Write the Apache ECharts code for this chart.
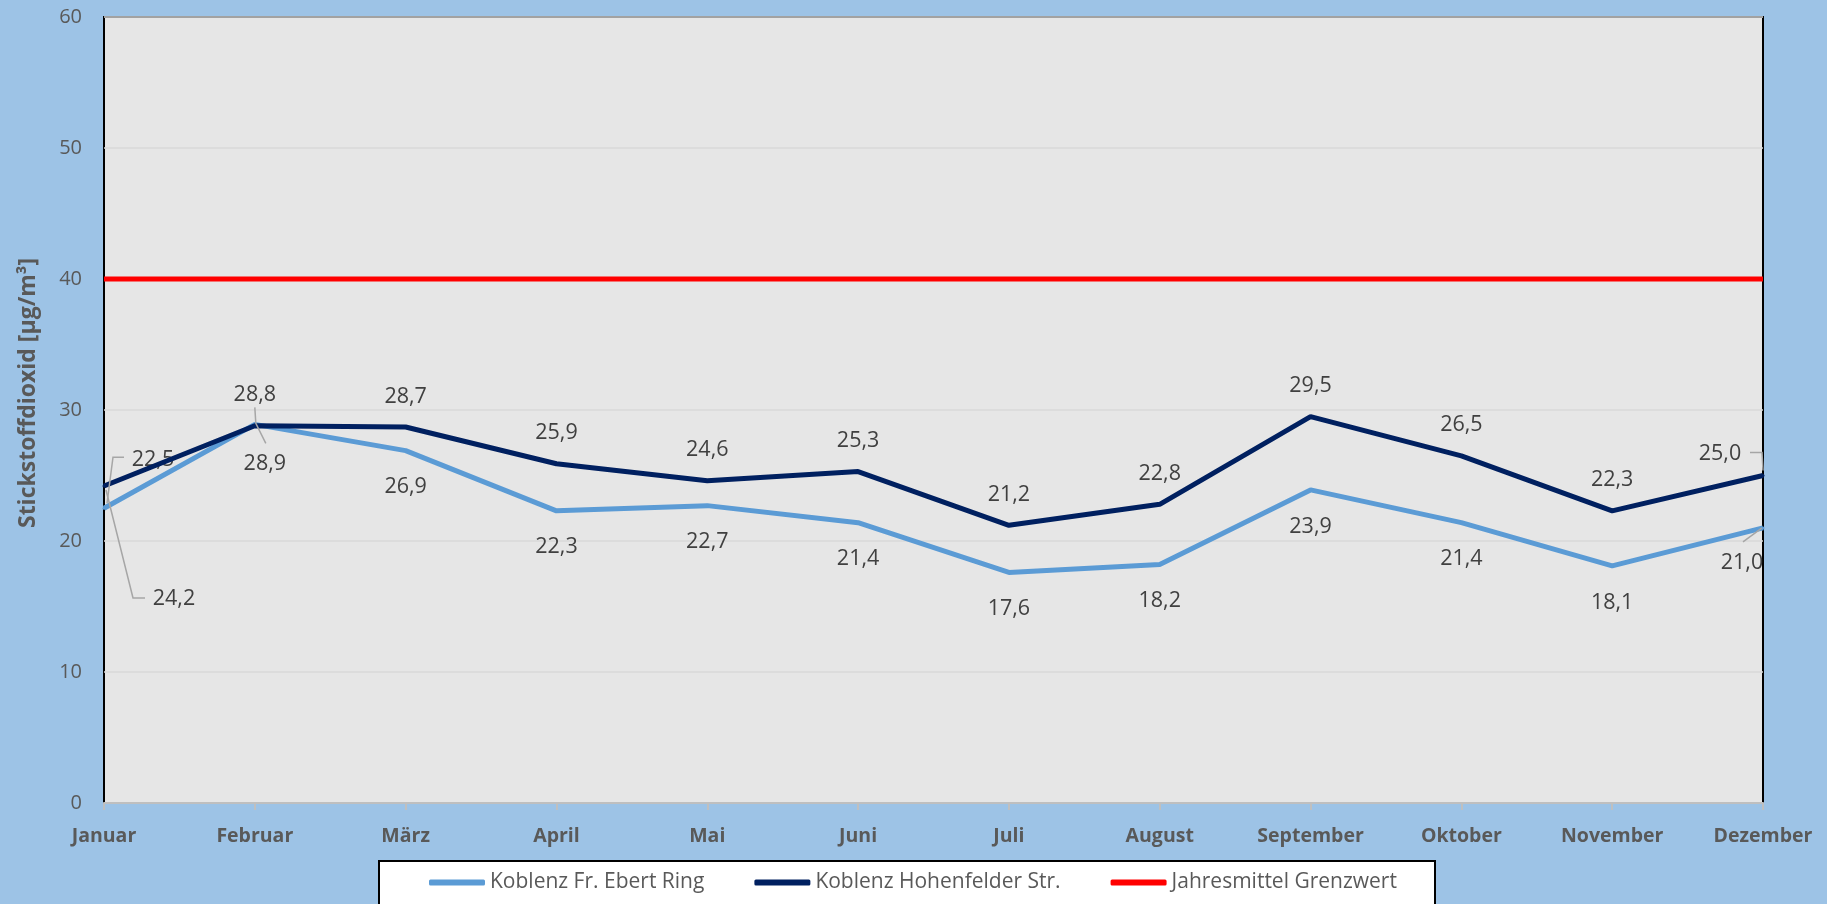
<!DOCTYPE html>
<html>
<head>
<meta charset="utf-8">
<script src="https://cdn.jsdelivr.net/npm/echarts@6/dist/echarts.min.js"></script>
<style>
html,body{margin:0;padding:0;background:#9DC3E6;}
#chart{width:1827px;height:904px;}
</style>
</head>
<body>
<div id="chart"></div>
<script>
// ---- data ----
const months = ['Januar','Februar','März','April','Mai','Juni','Juli','August','September','Oktober','November','Dezember'];
const ebertRing = [22.5, 28.9, 26.9, 22.3, 22.7, 21.4, 17.6, 18.2, 23.9, 21.4, 18.1, 21.0];
const hohenfelder = [24.2, 28.8, 28.7, 25.9, 24.6, 25.3, 21.2, 22.8, 29.5, 26.5, 22.3, 25.0];
const grenzwert = [40, 40, 40, 40, 40, 40, 40, 40, 40, 40, 40, 40];
const seriesNames = ['Koblenz Fr. Ebert Ring', 'Koblenz Hohenfelder Str.', 'Jahresmittel Grenzwert'];
const yTicks = {min: 0, max: 60, interval: 10};

// ---- label styling: labels moved away from their point, with leader lines (pixel offsets from the point) ----
const moved = [
  {s: 0, i: 0,  label: [49, -48],  leader: [[3, -5], [9, -51], [20, -51]]},
  {s: 0, i: 1,  label: [10, 39],   leader: [[0, -17], [1, -1], [11, 19]]},
  {s: 0, i: 11, label: [-21, 35],  leader: [[-20, 14], [-1, 0]]},
  {s: 1, i: 0,  label: [70, 113],  leader: [[2, 4], [29, 112], [41, 112]]},
  {s: 1, i: 11, label: [-43, -22], leader: [[-13, -23], [-1, -23], [0, -5]]}
];
const seriesValues = [ebertRing, hohenfelder];

function findMoved(s, i) {
  return moved.find(m => m.s === s && m.i === i);
}

function layout(params) {
  const m = findMoved(params.seriesIndex, params.dataIndex);
  if (!m) return {};
  const r = params.rect;
  const cx = r.x + r.width / 2, cy = r.y + r.height / 2;
  return {x: cx + m.label[0], y: cy + m.label[1], align: 'center', verticalAlign: 'middle'};
}

const leaderData = moved.map((m, k) => [m.i, seriesValues[m.s][m.i], k]);

const labelFont = {fontFamily: 'Open Sans', fontSize: 21.5, color: '#404040'};
const fmt = p => p.value.toFixed(1).replace('.', ',');

const chart = echarts.init(document.getElementById('chart'));
chart.setOption({
  animation: false,
  backgroundColor: '#9DC3E6',
  textStyle: {fontFamily: 'Open Sans'},
  grid: {
    left: 104, right: 64, top: 17, bottom: 101,
    show: true, backgroundColor: '#E6E6E6', borderColor: '#000000', borderWidth: 2
  },
  graphic: [{
    type: 'rect', left: 378, top: 860, z: -1,
    shape: {width: 1056, height: 60},
    style: {fill: '#FFFFFF', stroke: '#000000', lineWidth: 2}
  }],
  legend: {
    left: 429, top: 872, padding: 0,
    icon: 'roundRect', itemWidth: 56, itemHeight: 6, itemGap: 50,
    textStyle: {fontFamily: 'Open Sans', fontSize: 21, color: '#595959'},
    data: seriesNames
  },
  xAxis: {
    type: 'category', data: months, boundaryGap: false,
    axisLine: {show: true, lineStyle: {color: '#BFBFBF', width: 2}},
    axisTick: {show: true, length: 7, lineStyle: {color: '#BFBFBF', width: 2}},
    axisLabel: {margin: 23, fontFamily: 'Open Sans', fontSize: 19.5, fontWeight: 'bold', color: '#595959'},
    z: 5
  },
  yAxis: {
    type: 'value', min: yTicks.min, max: yTicks.max, interval: yTicks.interval,
    name: 'Stickstoffdioxid [µg/m³]', nameLocation: 'middle', nameGap: 64,
    nameTextStyle: {fontFamily: 'Open Sans', fontSize: 23, fontWeight: 'bold', color: '#595959', padding: [0, 0, 0, 34]},
    axisLine: {show: false}, axisTick: {show: false},
    axisLabel: {margin: 22, fontFamily: 'Open Sans', fontSize: 20, color: '#595959'},
    splitLine: {lineStyle: {color: '#D9D9D9', width: 1.5}}
  },
  series: [
    {
      name: seriesNames[0], type: 'line', data: ebertRing,
      color: '#5B9BD5', lineStyle: {width: 5, color: '#5B9BD5'},
      symbol: 'circle', symbolSize: 3, showSymbol: true,
      label: Object.assign({show: true, position: 'bottom', distance: 24, formatter: fmt}, labelFont),
      labelLayout: layout, z: 3
    },
    {
      name: seriesNames[1], type: 'line', data: hohenfelder,
      color: '#002060', lineStyle: {width: 5, color: '#002060'},
      symbol: 'circle', symbolSize: 3, showSymbol: true,
      label: Object.assign({show: true, position: 'top', distance: 18, formatter: fmt}, labelFont),
      labelLayout: layout, z: 4
    },
    {
      name: seriesNames[2], type: 'line', data: grenzwert,
      color: '#FF0000', lineStyle: {width: 5, color: '#FF0000'},
      symbol: 'none', z: 2
    },
    {
      type: 'custom', data: leaderData, z: 6, clip: false, silent: true,
      renderItem: function (params, api) {
        const p = api.coord([api.value(0), api.value(1)]);
        const m = moved[api.value(2)];
        return {
          type: 'polyline',
          shape: {points: m.leader.map(o => [p[0] + o[0], p[1] + o[1]])},
          style: {stroke: '#A6A6A6', lineWidth: 1.5, fill: null}
        };
      }
    }
  ]
});
</script>
</body>
</html>
